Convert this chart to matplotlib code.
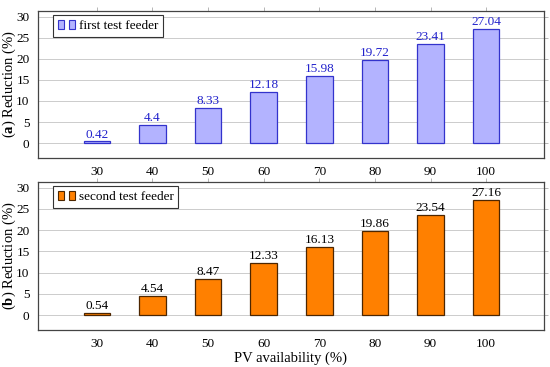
import matplotlib.pyplot as plt
from matplotlib.patches import Patch
from matplotlib.legend_handler import HandlerTuple

plt.rcParams['font.family'] = 'Liberation Serif'
plt.rcParams['mathtext.fontset'] = 'custom'
plt.rcParams['mathtext.rm'] = 'Liberation Serif'
plt.rcParams['mathtext.bf'] = 'Liberation Serif:bold'

# data
pv = [30, 40, 50, 60, 70, 80, 90, 100]
first_feeder = [0.42, 4.4, 8.33, 12.18, 15.98, 19.72, 23.41, 27.04]
second_feeder = [0.54, 4.54, 8.47, 12.33, 16.13, 19.86, 23.54, 27.16]
labels_first = ['0.42', '4.4', '8.33', '12.18', '15.98', '19.72', '23.41', '27.04']
labels_second = ['0.54', '4.54', '8.47', '12.33', '16.13', '19.86', '23.54', '27.16']

fig = plt.figure(figsize=(5.5, 3.67), dpi=100)
ax1 = fig.add_axes([0.069, 0.5695, 0.92, 0.4005])
ax2 = fig.add_axes([0.069, 0.101, 0.92, 0.403])

panels = [
    (ax1, first_feeder, labels_first, '#b3b3ff', '#3333cc', '#2222cc', 'first test feeder', r'($\mathbf{a}$) Reduction (%)'),
    (ax2, second_feeder, labels_second, '#ff8000', '#4d2600', 'black', 'second test feeder', r'($\mathbf{b}$) Reduction (%)'),
]

for ax, vals, labs, fc, ec, tc, name, ylab in panels:
    bars = ax.bar(pv, vals, width=4.8, color=fc, edgecolor=ec, linewidth=0.9, zorder=3)
    for b, t in zip(bars, labs):
        ax.text(b.get_x() + b.get_width() / 2, b.get_height() + 0.2, t,
                ha='center', va='bottom', color=tc, fontsize=9.5, zorder=4)
    ax.set_xlim(19.4, 110.4)
    ax.set_ylim(-3.5, 31.3)
    ax.set_yticks([0, 5, 10, 15, 20, 25, 30])
    ax.set_xticks(pv)
    ax.grid(axis='y', color='#cccccc', linewidth=0.7, zorder=0)
    ax.tick_params(axis='both', labelsize=9.5, direction='out', length=0, pad=3)
    ax.tick_params(top=True, right=True, length=3, width=0.5, color='#999999')
    ax.tick_params(bottom=False, left=False)
    for s in ax.spines.values():
        s.set_color('#444444')
        s.set_linewidth(0.9)
    ax.set_ylabel(ylab, fontsize=10.5)
    ax.yaxis.set_label_coords(-0.040, 0.5)
    p1 = Patch(facecolor=fc, edgecolor=ec, linewidth=0.8)
    p2 = Patch(facecolor=fc, edgecolor=ec, linewidth=0.8)
    leg = ax.legend([(p1, p2)], [name], handler_map={tuple: HandlerTuple(ndivide=None, pad=0.4)},
                    loc='upper left', fontsize=9.5, handlelength=1.3, handleheight=0.6,
                    handletextpad=0.3, borderpad=0.35, borderaxespad=0, fancybox=False,
                    framealpha=1, edgecolor='#333333', bbox_to_anchor=(0.03, 0.97))
    leg.get_frame().set_linewidth(0.8)

ax2.set_xlabel('PV availability (%)', fontsize=10.5, labelpad=1)

plt.savefig('out.png', dpi=100)
